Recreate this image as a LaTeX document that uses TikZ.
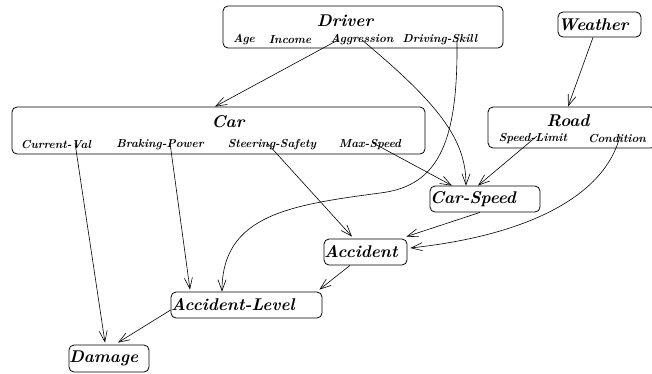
\documentclass[tikz,border=0pt]{standalone}
\usetikzlibrary{arrows.meta}
\tikzset{
  box/.style={draw, rounded corners=5pt, line width=0.8pt, inner sep=0pt},
  lbox/.style={box, align=left, inner xsep=6pt},
  ttl/.style={font=\fontsize{17}{18}\selectfont\bfseries\itshape, inner sep=0pt},
  att/.style={font=\fontsize{11.6}{12}\selectfont\bfseries\itshape, inner sep=0pt},
  arr/.style={-{Straight Barb[length=11pt,width=8pt]}, line width=0.6pt},
}
\begin{document}
\begin{tikzpicture}[x=1pt,y=-1pt]
\useasboundingbox (0,0) rectangle (652,373);
\clip (0,0) rectangle (652,373);
% Driver
\node[box, minimum width=280pt, minimum height=42pt] (driver) at (363,27) {};
\node[ttl] (drivert) at (345,21) {Driver};
\node[att] (age) at (244,40) {Age};
\node[att] (income) at (290,40) {Income};
\node[att] (aggr) at (362,40) {Aggression};
\node[att] (dskill) at (440,40) {Driving-Skill};
% Weather
\node[lbox, ttl, text width=83pt, minimum height=25pt] (weather) at (599.5,24.5) {Weather};
% Road
\node[box, minimum width=168pt, minimum height=41pt] (road) at (572,127.5) {};
\node[ttl] (roadt) at (568,121) {Road};
\node[att] (slimit) at (533,139) {Speed-Limit};
\node[att] (cond) at (617,139) {Condition};
% Car
\node[box, minimum width=413pt, minimum height=47pt] (car) at (218.5,130.5) {};
\node[ttl] (cart) at (228,122) {Car};
\node[att] (cv) at (56,145) {Current-Val};
\node[att] (bp) at (160,145) {Braking-Power};
\node[att] (ss) at (272,145) {Steering-Safety};
\node[att] (ms) at (370,145) {Max-Speed};
% Single nodes
\node[lbox, ttl, text width=110pt, minimum height=26pt] (cspeed) at (485,199) {Car-Speed};
\node[lbox, ttl, text width=83pt, minimum height=26pt] (acc) at (365.5,252) {Accident};
\node[lbox, ttl, text width=151pt, minimum height=26pt] (alevel) at (246.5,305) {Accident-Level};
\node[lbox, ttl, text width=80pt, minimum height=27pt] (damage) at (109,358.5) {Damage};
% Connectors
\draw[arr] ([xshift=-24pt]aggr.center) -- ([xshift=-3.5pt]car.north);
\draw[arr] (aggr.center) .. controls (440,105) and (466,140) .. ([xshift=-19pt]cspeed.north);
\draw[arr] ([xshift=17pt]dskill.center) .. controls (458,140) and (440,186) .. (380,193)
   .. controls (290,205) and (222,215) .. ([xshift=-24.5pt]alevel.north);
\draw[arr] ([xshift=-6.5pt]weather.south) -- ([xshift=-4pt]road.north);
\draw[arr] ([xshift=4pt,yshift=3pt]slimit.center) -- ([xshift=-7pt]cspeed.north);
\draw[arr] ([xshift=3pt,yshift=3pt]cond.center) .. controls (605,195) and (530,235) .. ([xshift=3pt,yshift=4pt]acc.east);
\draw[arr] ([xshift=3pt,yshift=2pt]ms.center) -- ([xshift=-33pt]cspeed.north);
\draw[arr] ([xshift=-5pt]cspeed.south) -- ([xshift=-1pt,yshift=2pt]acc.north east);
\draw[arr] ([xshift=-5pt,yshift=2pt]ss.center) -- ([xshift=-13.5pt,yshift=2pt]acc.north);
\draw[arr] ([xshift=10pt,yshift=2pt]bp.center) -- ([xshift=-56.5pt,yshift=2pt]alevel.north);
\draw[arr] ([xshift=19pt,yshift=2pt]cv.center) -- ([xshift=-4pt,yshift=2pt]damage.north);
\draw[arr] ([xshift=-15.5pt]acc.south) -- ([xshift=-3pt,yshift=2pt]alevel.north east);
\draw[arr] ([yshift=-5pt]alevel.west) -- ([xshift=9pt,yshift=2pt]damage.north);
\end{tikzpicture}
\end{document}
